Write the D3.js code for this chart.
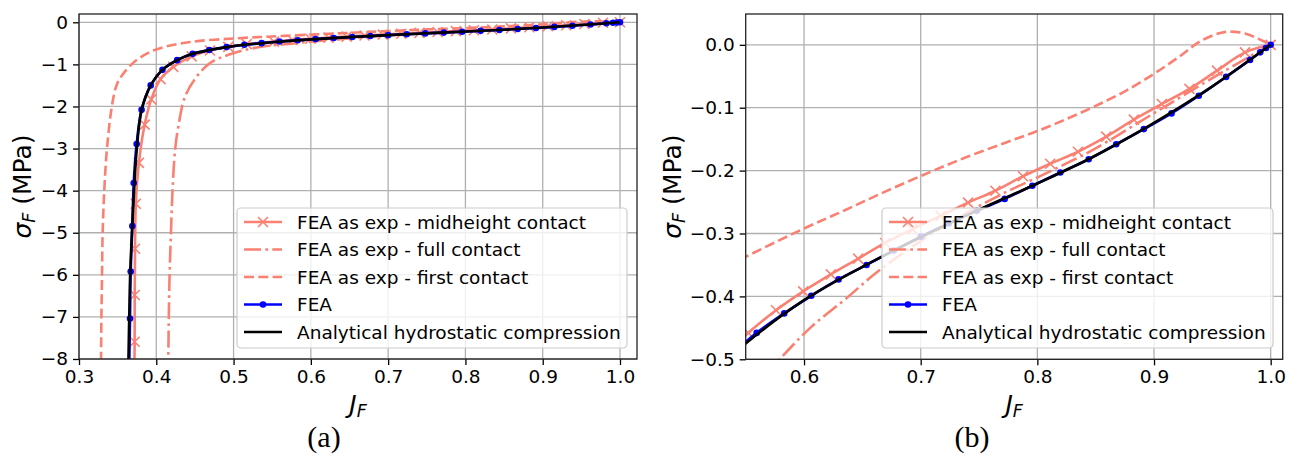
<!DOCTYPE html>
<html><head><meta charset="utf-8">
<script src="https://cdn.jsdelivr.net/npm/d3@7"></script>
<style>body{margin:0;background:#fff}svg{display:block}</style>
</head><body>
<svg id="c" width="1296" height="457"></svg>
<script>
// ---------------- data ----------------
const midJ = [0.3715,0.3720,0.3721,0.3725,0.3735,0.3775,0.3850,0.3935,0.4055,0.4220,0.4458,0.4695,0.4932,0.5170,0.5522,0.5760,0.5993,0.6230,0.6464,0.6695,0.6930,0.7170,0.7406,0.7640,0.7877,0.8110,0.8348,0.8590,0.8827,0.9067,0.9304,0.9540,0.9780,1.0];
const midS = [-8.4,-7.59,-6.48,-5.38,-4.31,-3.34,-2.43,-1.83,-1.35,-1.06,-0.81,-0.67,-0.585,-0.52,-0.458,-0.422,-0.392,-0.365,-0.340,-0.315,-0.293,-0.272,-0.251,-0.232,-0.209,-0.189,-0.170,-0.146,-0.119,-0.094,-0.070,-0.041,-0.012,0.0];

const fullJ = [0.4150,0.4155,0.4162,0.4172,0.4190,0.4210,0.4245,0.4285,0.4371,0.4523,0.4695,0.4953,0.5300,0.5800,0.6065,0.6350,0.6635,0.7000,0.7350,0.7700,0.8100,0.8476,0.9050,0.9600,1.0];
const fullS = [-8.4,-8.0,-7.0,-6.0,-5.0,-4.0,-3.0,-2.48,-1.77,-1.29,-0.97,-0.76,-0.60,-0.498,-0.448,-0.405,-0.360,-0.312,-0.272,-0.237,-0.202,-0.167,-0.103,-0.042,0.0];

const firstJ = [0.3282,0.3285,0.3290,0.3298,0.3306,0.3327,0.3362,0.3425,0.3485,0.3560,0.3680,0.3790,0.4005,0.4436,0.4996,0.5500,0.6000,0.6350,0.6700,0.7090,0.7400,0.7720,0.8000,0.8250,0.8500,0.8750,0.9000,0.9200,0.9400,0.9550,0.9650,0.9780,0.9900,1.0];
const firstS = [-8.4,-8.0,-7.0,-6.0,-5.0,-4.0,-3.0,-2.0,-1.5,-1.25,-1.0,-0.84,-0.64,-0.47,-0.385,-0.337,-0.292,-0.263,-0.233,-0.2015,-0.178,-0.156,-0.137,-0.118,-0.097,-0.074,-0.046,-0.021,0.006,0.018,0.021,0.018,0.009,0.0];

const feaJ = [0.3648,0.3660,0.3669,0.3690,0.3708,0.3746,0.3810,0.3928,0.4080,0.4270,0.4470,0.4686,0.4910,0.5140,0.5363,0.5594,0.5830,0.6062,0.6296,0.6536,0.6770,0.7000,0.7240,0.7480,0.7720,0.7957,0.8197,0.8440,0.8676,0.8913,0.9150,0.9384,0.9618,0.9823,0.9910,0.9960,1.0];
const feaS = [-8.4,-7.04,-5.92,-4.84,-3.82,-2.89,-2.08,-1.50,-1.13,-0.90,-0.75,-0.66,-0.59,-0.535,-0.495,-0.458,-0.427,-0.399,-0.373,-0.350,-0.327,-0.305,-0.284,-0.264,-0.245,-0.224,-0.203,-0.182,-0.158,-0.134,-0.109,-0.081,-0.051,-0.024,-0.012,-0.005,0.0];

const anaJ = [0.3636,0.3640,0.3650,0.3662,0.3685,0.3712,0.3748,0.3810,0.3928,0.4080,0.4270,0.4470,0.4686,0.4910,0.5140,0.5370,0.5500,0.6000,0.6500,0.7000,0.7500,0.8000,0.8500,0.9000,0.9500,1.0];
const anaS = [-8.5,-8.0,-7.0,-6.0,-5.0,-4.0,-3.0,-2.08,-1.50,-1.13,-0.90,-0.75,-0.66,-0.59,-0.535,-0.497,-0.475,-0.406,-0.353,-0.306,-0.262,-0.2205,-0.176,-0.124,-0.066,0.0];

const legendLabels = ["FEA as exp - midheight contact","FEA as exp - full contact","FEA as exp - first contact","FEA","Analytical hydrostatic compression"];

const xTicksA = [0.3,0.4,0.5,0.6,0.7,0.8,0.9,1.0];
const yTicksA = [0,-1,-2,-3,-4,-5,-6,-7,-8];
const xTicksB = [0.6,0.7,0.8,0.9,1.0];
const yTicksB = [0.0,-0.1,-0.2,-0.3,-0.4,-0.5];
const captions = ["(a)","(b)"];

// ---------------- drawing ----------------
const SALMON = "#FA8072";
const svg = d3.select("#c");
const zip = (a,b) => a.map((v,i)=>[v,b[i]]);

const series = [
  {key:"mid",  data: zip(midJ,midS),   color:SALMON, dash:null, marker:"x"},
  {key:"full", data: zip(fullJ,fullS), color:SALMON, dash:"17,4.3,2.7,4.3", marker:null},
  {key:"first",data: zip(firstJ,firstS), color:SALMON, dash:"10,4.3", marker:null},
  {key:"fea",  data: zip(feaJ,feaS),   color:"#0000FF", dash:null, marker:"o"},
  {key:"ana",  data: zip(anaJ,anaS),   color:"#000000", dash:null, marker:null}
];

const panels = [
  {x0:79, x1:637, y0:14, y1:359, xd:[0.3,1.022], yd:[-8,0.197], xt:xTicksA, yt:yTicksA,
   xf:d3.format(".1f"), yf:d3.format("d"), leg:{x:237,y:208,w:390,h:140}, ylx:31, cap:captions[0], capx:324},
  {x0:745.7, x1:1282.7, y0:14, y1:359.3, xd:[0.55,1.0103], yd:[-0.5,0.049], xt:xTicksB, yt:yTicksB,
   xf:d3.format(".1f"), yf:d3.format(".1f"), leg:{x:882,y:208,w:391,h:140}, ylx:681, cap:captions[1], capx:972}
];

const FONT = "'DejaVu Sans', sans-serif";

panels.forEach((p,pi)=>{
  const x = d3.scaleLinear().domain(p.xd).range([p.x0,p.x1]);
  const y = d3.scaleLinear().domain(p.yd).range([p.y1,p.y0]);
  const g = svg.append("g");
  const cid = "clip"+pi;
  svg.append("clipPath").attr("id",cid).append("rect")
    .attr("x",p.x0).attr("y",p.y0).attr("width",p.x1-p.x0).attr("height",p.y1-p.y0);

  // grid
  g.append("g").selectAll("line").data(p.xt).join("line")
    .attr("x1",d=>x(d)).attr("x2",d=>x(d)).attr("y1",p.y0).attr("y2",p.y1)
    .attr("stroke","#b0b0b0").attr("stroke-width",1.3);
  g.append("g").selectAll("line").data(p.yt).join("line")
    .attr("y1",d=>y(d)).attr("y2",d=>y(d)).attr("x1",p.x0).attr("x2",p.x1)
    .attr("stroke","#b0b0b0").attr("stroke-width",1.3);

  // axes
  const xa = g.append("g").attr("transform",`translate(0,${p.y1})`)
    .call(d3.axisBottom(x).tickValues(p.xt).tickFormat(p.xf).tickSize(6).tickPadding(5));
  const ya = g.append("g").attr("transform",`translate(${p.x0},0)`)
    .call(d3.axisLeft(y).tickValues(p.yt).tickFormat(p.yf).tickSize(6).tickPadding(5));
  [xa,ya].forEach(a=>{
    a.select(".domain").remove();
    a.selectAll("line").attr("stroke","#000").attr("stroke-width",1.3);
    a.selectAll("text").attr("font-family",FONT).attr("font-size","18.5px").attr("fill","#000");
  });

  // series
  const plot = g.append("g").attr("clip-path",`url(#${cid})`);
  const line = d3.line().x(d=>x(d[0])).y(d=>y(d[1])).curve(d3.curveCatmullRom.alpha(0.5));
  series.forEach(s=>{
    const sg = plot.append("g");
    sg.append("path").attr("d",line(s.data)).attr("fill","none")
      .attr("stroke",s.color).attr("stroke-width",2.6)
      .attr("stroke-dasharray",s.dash).attr("stroke-linejoin","round");
    if(s.marker==="o"){
      sg.selectAll("circle").data(s.data).join("circle")
        .attr("cx",d=>x(d[0])).attr("cy",d=>y(d[1])).attr("r",3.3).attr("fill",s.color);
    } else if(s.marker==="x"){
      sg.selectAll("path.m").data(s.data).join("path").attr("class","m")
        .attr("d",d=>{const cx=x(d[0]),cy=y(d[1]),r=5;return `M${cx-r},${cy-r}L${cx+r},${cy+r}M${cx-r},${cy+r}L${cx+r},${cy-r}`;})
        .attr("stroke",s.color).attr("stroke-width",1.6).attr("fill","none");
    }
  });

  // frame
  g.append("rect").attr("x",p.x0).attr("y",p.y0).attr("width",p.x1-p.x0).attr("height",p.y1-p.y0)
    .attr("fill","none").attr("stroke","#222").attr("stroke-width",1.3);

  // legend
  const L = p.leg;
  const lg = g.append("g");
  lg.append("rect").attr("x",L.x).attr("y",L.y).attr("width",L.w).attr("height",L.h)
    .attr("rx",4).attr("fill","#fff").attr("fill-opacity",0.8).attr("stroke","#cccccc").attr("stroke-width",1.2);
  series.forEach((s,i)=>{
    const cy = L.y+14+i*27.5, hx0 = L.x+7, hx1 = L.x+45, hc=(hx0+hx1)/2;
    lg.append("line").attr("x1",hx0).attr("x2",hx1).attr("y1",cy).attr("y2",cy)
      .attr("stroke",s.color).attr("stroke-width",2.6).attr("stroke-dasharray",s.dash);
    if(s.marker==="o") lg.append("circle").attr("cx",hc).attr("cy",cy).attr("r",3.3).attr("fill",s.color);
    if(s.marker==="x") lg.append("path").attr("d",`M${hc-5},${cy-5}L${hc+5},${cy+5}M${hc-5},${cy+5}L${hc+5},${cy-5}`)
      .attr("stroke",s.color).attr("stroke-width",1.6);
    lg.append("text").attr("x",L.x+60).attr("y",cy).attr("dy","0.36em")
      .attr("font-family",FONT).attr("font-size","18.5px").attr("fill","#000").text(legendLabels[i]);
  });

  // axis labels
  const xl = g.append("text").attr("x",(p.x0+p.x1)/2).attr("y",413).attr("text-anchor","middle")
    .attr("font-family",FONT).attr("font-size","25px").attr("fill","#000");
  xl.append("tspan").attr("font-style","italic").text("J");
  xl.append("tspan").attr("font-style","italic").attr("font-size","17.5px").attr("dy","4").text("F");

  const yl = g.append("text").attr("transform",`translate(${p.ylx},${(p.y0+p.y1)/2}) rotate(-90)`)
    .attr("text-anchor","middle").attr("font-family",FONT).attr("font-size","25px").attr("fill","#000");
  yl.append("tspan").attr("font-style","italic").text("σ");
  yl.append("tspan").attr("font-style","italic").attr("font-size","17.5px").attr("dy","4").text("F");
  yl.append("tspan").attr("dy","-4").text(" (MPa)");

  // caption
  g.append("text").attr("x",p.capx).attr("y",447).attr("text-anchor","middle")
    .attr("font-family","'Liberation Serif', serif").attr("font-size","30px").attr("fill","#000").text(p.cap);
});
</script>
</body></html>
